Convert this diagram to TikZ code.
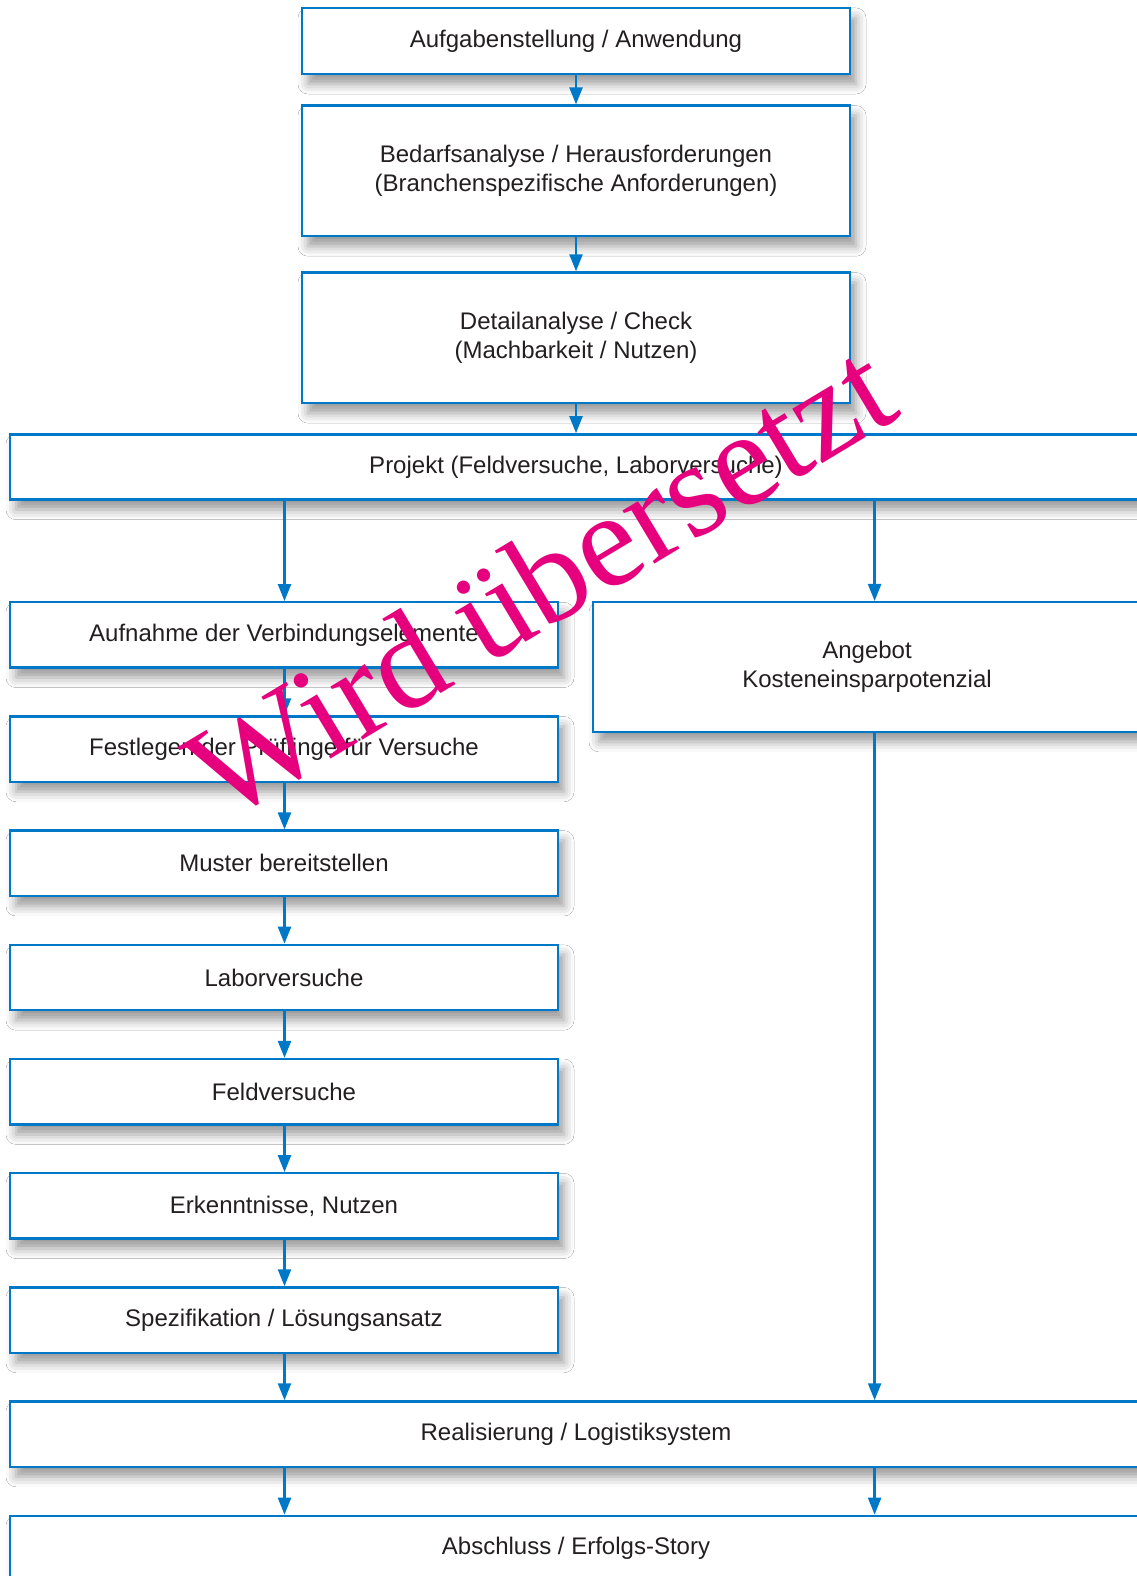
\documentclass[tikz,border=0pt]{standalone}
\usepackage{fontspec}
\setmainfont{Liberation Sans}
\newfontfamily\wmfont{Liberation Serif}
\usetikzlibrary{arrows.meta,shadows.blur}
\definecolor{fblue}{RGB}{0,120,200}
\definecolor{ftext}{RGB}{35,31,32}
\definecolor{wmpink}{RGB}{230,0,126}
\begin{document}
\begin{tikzpicture}[x=1pt,y=1pt,
  box/.style={draw=fblue, line width=2.4pt, fill=white, text=ftext,
    font=\fontsize{24}{29.5}\selectfont, align=center, inner sep=0pt,
    blur shadow={shadow xshift=6pt, shadow yshift=-10pt, shadow blur radius=10pt, shadow opacity=40}},
  narrowbox/.style={box, minimum width=548, minimum height=65.3},
  tallbox/.style={box, minimum width=548, minimum height=130.6},
  widebox/.style={box, minimum width=1132, minimum height=65.3},
  arr/.style={draw=fblue, line width=2.4pt, -{Triangle[width=13pt,length=17pt]}}]
\clip (0,0) rectangle (1137,-1576);
\fill[white] (0,0) rectangle (1137,-1576);
\coordinate (lx) at (284.5,0);
\coordinate (rx) at (874.6,0);
% top column
\node[narrowbox, minimum height=66] (n1) at (576,-41) {Aufgabenstellung / Anwendung};
\node[tallbox] (n2) at (576,-170.9) {Bedarfsanalyse / Herausforderungen\\(Branchenspezifische Anforderungen)};
\node[tallbox] (n3) at (576,-337.8) {Detailanalyse / Check\\(Machbarkeit / Nutzen)};
\node[widebox] (proj) at (576,-467) {Projekt (Feldversuche, Laborversuche)};
% left column
\node[narrowbox] (l1) at (284,-634.9) {Aufnahme der Verbindungselemente};
\node[narrowbox] (l2) at (284,-749.1) {Festlegen der Prüflinge für Versuche};
\node[narrowbox] (l3) at (284,-863.3) {Muster bereitstellen};
\node[narrowbox] (l4) at (284,-977.5) {Laborversuche};
\node[narrowbox] (l5) at (284,-1091.7) {Feldversuche};
\node[narrowbox] (l6) at (284,-1205.9) {Erkenntnisse, Nutzen};
\node[narrowbox] (l7) at (284,-1320.1) {Spezifikation / Lösungsansatz};
% right column
\node[tallbox, minimum height=129.7] (ang) at (867,-667) {Angebot\\Kosteneinsparpotenzial};
% bottom
\node[widebox] (real) at (576,-1434.1) {Realisierung / Logistiksystem};
\node[widebox] (absch) at (576,-1548.5) {Abschluss / Erfolgs-Story};
% connectors
\draw[arr] (n1.south) -- (n2.north);
\draw[arr] (n2.south) -- (n3.north);
\draw[arr] (n3.south) -- (proj.north);
\draw[arr] (proj.south -| lx) -- (l1.north -| lx);
\draw[arr] (proj.south -| rx) -- (ang.north -| rx);
\draw[arr] (l1.south -| lx) -- (l2.north -| lx);
\draw[arr] (l2.south -| lx) -- (l3.north -| lx);
\draw[arr] (l3.south -| lx) -- (l4.north -| lx);
\draw[arr] (l4.south -| lx) -- (l5.north -| lx);
\draw[arr] (l5.south -| lx) -- (l6.north -| lx);
\draw[arr] (l6.south -| lx) -- (l7.north -| lx);
\draw[arr] (l7.south -| lx) -- (real.north -| lx);
\draw[arr] (ang.south -| rx) -- (real.north -| rx);
\draw[arr] (real.south -| lx) -- (absch.north -| lx);
\draw[arr] (real.south -| rx) -- (absch.north -| rx);
% watermark
\node[text=wmpink, font=\wmfont\fontsize{135}{135}\selectfont, rotate=31, inner sep=0pt] (wm) at (540,-580) {Wird übersetzt};
\end{tikzpicture}
\end{document}
